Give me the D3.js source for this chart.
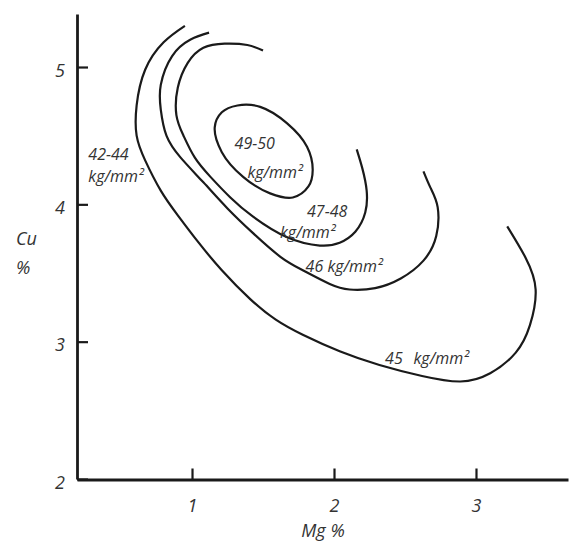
<!DOCTYPE html>
<html lang="en">
<head>
  <meta charset="UTF-8">
  <title>Cu / Mg strength contours</title>
  <style>
    body { margin: 0; background: #fff; }
    text { font-family: "Open Sans", sans-serif; font-style: italic; fill: #333; }
  </style>
</head>
<body>
  <svg width="569" height="543" id="chart"></svg>
  <script src="https://d3js.org/d3.v7.min.js"></script>
  <script>
    // axis ticks
    let xTicks = [1, 2, 3];
    let yTicks = [2, 3, 4, 5];

    // contour lines, [Mg %, Cu %]
    let curve45 = [[0.95, 5.30], [0.80, 5.18], [0.67, 4.98], [0.61, 4.72], [0.61, 4.50], [0.67, 4.32],
      [0.78, 4.10], [0.90, 3.92], [1.04, 3.73], [1.21, 3.52], [1.41, 3.31], [1.59, 3.16], [1.78, 3.05],
      [2.04, 2.93], [2.32, 2.83], [2.62, 2.75], [2.89, 2.71], [3.10, 2.77], [3.28, 2.92], [3.38, 3.12],
      [3.42, 3.38], [3.35, 3.61], [3.22, 3.84]];
    let curve46 = [[1.12, 5.25], [0.99, 5.20], [0.86, 5.08], [0.78, 4.87], [0.78, 4.69], [0.82, 4.50],
      [0.92, 4.34], [1.08, 4.16], [1.25, 3.97], [1.43, 3.79], [1.62, 3.62], [1.78, 3.52], [1.97, 3.42],
      [2.11, 3.38], [2.29, 3.39], [2.47, 3.46], [2.63, 3.59], [2.72, 3.77], [2.73, 3.98], [2.68, 4.12],
      [2.63, 4.24]];
    let curve4748 = [[1.50, 5.12], [1.39, 5.16], [1.23, 5.17], [1.08, 5.14], [0.97, 5.03], [0.90, 4.85],
      [0.89, 4.65], [0.94, 4.50], [1.02, 4.34], [1.13, 4.20], [1.27, 4.05], [1.43, 3.91], [1.67, 3.76],
      [1.90, 3.70], [2.04, 3.72], [2.15, 3.80], [2.22, 3.94], [2.23, 4.10], [2.20, 4.26], [2.16, 4.40]];
    let curve4950 = [[1.32, 4.72], [1.48, 4.71], [1.67, 4.59], [1.81, 4.42], [1.85, 4.25], [1.82, 4.13],
      [1.71, 4.05], [1.55, 4.08], [1.36, 4.20], [1.21, 4.38], [1.16, 4.56], [1.21, 4.67]];

    // labels: [Mg %, Cu %, text]
    let labels = [
      [0.27, 4.32, '42-44'], [0.27, 4.16, 'kg/mm²'],
      [1.30, 4.40, '49-50'], [1.39, 4.19, 'kg/mm²'],
      [1.81, 3.905, '47-48'], [1.62, 3.755, 'kg/mm²'],
      [1.80, 3.51, '46 kg/mm²'],
      [2.36, 2.84, '45'], [2.56, 2.84, 'kg/mm²']
    ];

    let svg = d3.select('#chart');

    let x = d3.scaleLinear().domain([0.19, 3.648]).range([77, 568]);
    let y = d3.scaleLinear().domain([2, 5.386]).range([479, 14]);

    let line = d3.line().x(d => x(d[0])).y(d => y(d[1])).curve(d3.curveNatural);
    let closedLine = d3.line().x(d => x(d[0])).y(d => y(d[1])).curve(d3.curveCatmullRomClosed);

    [curve45, curve46, curve4748].forEach(c => {
      svg.append('path').attr('d', line(c))
          .attr('fill', 'none').attr('stroke', '#1a1a1a').attr('stroke-width', 2.2);
    });
    svg.append('path').attr('d', closedLine(curve4950))
        .attr('fill', 'none').attr('stroke', '#1a1a1a').attr('stroke-width', 2.2);

    svg.selectAll('text.lab').data(labels).join('text')
        .attr('class', 'lab')
        .attr('x', d => x(d[0]))
        .attr('y', d => y(d[1]))
        .attr('font-size', 16)
        .text(d => d[2]);

    // axes
    let xAxis = svg.append('g').attr('transform', 'translate(0,479.5)')
        .call(d3.axisBottom(x).tickValues(xTicks).tickSizeInner(-11).tickSizeOuter(0).tickFormat(d3.format('d')));
    let yAxis = svg.append('g').attr('transform', 'translate(77,0)')
        .call(d3.axisLeft(y).tickValues(yTicks).tickSizeInner(-11).tickSizeOuter(0).tickFormat(d3.format('d')));

    [xAxis, yAxis].forEach(a => {
      a.select('.domain').attr('stroke', '#1a1a1a').attr('stroke-width', 2.8);
      a.selectAll('.tick line').attr('stroke', '#1a1a1a').attr('stroke-width', 2.2);
      a.selectAll('.tick text').attr('font-size', 18).attr('font-family', null).attr('fill', '#333');
    });
    xAxis.selectAll('.tick text').attr('y', 32).attr('dy', '0');
    yAxis.selectAll('.tick text').attr('x', -12).attr('dy', '0.5em');

    svg.append('text').attr('x', 323).attr('y', 537).attr('text-anchor', 'middle')
        .attr('font-size', 18).text('Mg %');
    svg.append('text').attr('x', 16).attr('y', 245).attr('font-size', 18).text('Cu');
    svg.append('text').attr('x', 16).attr('y', 274).attr('font-size', 18).text('%');
  </script>
</body>
</html>
